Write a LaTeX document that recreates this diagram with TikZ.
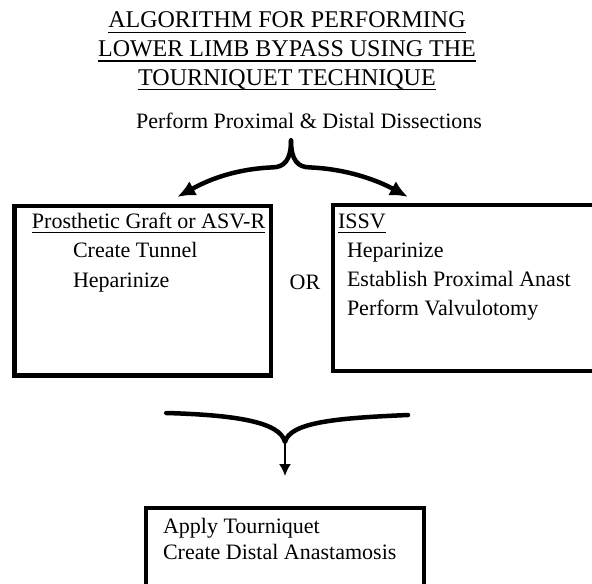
\documentclass[tikz,border=0pt]{standalone}
\usepackage{fontspec}
\setmainfont{Liberation Serif}
\usetikzlibrary{arrows.meta, positioning}

\newcommand{\ulined}[1]{\setbox0\hbox{#1}\rlap{\rule[-5bp]{\wd0}{1.2bp}}\box0}

\tikzset{
	stepbox/.style = {draw, black, line width = 4.5bp, inner sep = 0pt, outer sep = 0pt, font = \fontsize{22bp}{29.5bp}\selectfont},
	plain/.style = {black, inner sep = 0pt, font = \fontsize{22bp}{29.5bp}\selectfont},
	bracket/.style = {black, line width = 4.5bp, line cap = round, line join = round},
}

\begin{document}
\begin{tikzpicture}[x = 1bp, y = -1bp]

	\useasboundingbox (0, 0) rectangle (592, 584);

	%%% TITULO %%%

	\node[plain, anchor = north, align = center, font = \fontsize{24bp}{28.75bp}\selectfont] (title) at (287, 11.7)
		{\ulined{ALGORITHM FOR PERFORMING}\\ \ulined{LOWER LIMB BYPASS USING THE}\\ \ulined{TOURNIQUET TECHNIQUE}};

	\node[plain, anchor = base] (dissect) at (309, 129) {Perform Proximal \& Distal Dissections};

	%%% CAIXAS %%%

	\node[stepbox] (graft) at (142.75, 290.75) {\parbox[c][169.5bp][t]{256.5bp}{\raggedright
		\hspace*{17.5bp}\rule{0pt}{22bp}\ulined{Prosthetic Graft or ASV-R}\\
		\hspace*{58.5bp}Create Tunnel\\
		\hspace*{58.5bp}Heparinize}};

	\node[plain, anchor = base] (or) at (305, 289) {OR};

	\node[stepbox] (issv) at (465.5, 288) {\parbox[c][166bp][t]{265bp}{\raggedright\fontsize{22bp}{29.3bp}\selectfont
		\hspace*{5bp}\rule{0pt}{23bp}\ulined{ISSV}\\
		\hspace*{14bp}Heparinize\\
		\hspace*{14bp}Establish Proximal Anast\\
		\hspace*{14bp}Perform Valvulotomy}};

	\node[stepbox] (tourn) at (285, 554) {\parbox[c][92bp][t]{278bp}{\raggedright\fontsize{22bp}{26bp}\selectfont
		\hspace*{17bp}\rule{0pt}{25bp}Apply Tourniquet\\
		\hspace*{17bp}Create Distal Anastamosis}};

	%%% SETAS %%%

	\coordinate (fork)  at ([xshift = -18bp, yshift = -11bp]dissect.south);
	\coordinate (ltip)  at ([xshift = 34.5bp, yshift = 9bp]graft.north);
	\coordinate (rtip)  at ([xshift = -57.5bp, yshift = 8bp]issv.north);
	\coordinate (lend)  at ([xshift = 23.5bp, yshift = -37.5bp]graft.south);
	\coordinate (rend)  at ([xshift = -57.5bp, yshift = -44bp]issv.south);
	\coordinate (merge) at ([yshift = 66bp]tourn.north);
	\coordinate (aend)  at ([yshift = 32bp]tourn.north);

	\draw[bracket, -{Latex[length = 18bp, width = 16bp]}] (fork) .. controls +(0, 20) and +(12, 0) .. +(-19, 27) .. controls +(-45, 2) and +(22, -12) .. (ltip);
	\draw[bracket, -{Latex[length = 18bp, width = 16bp]}] (fork) .. controls +(0, 20) and +(-12, 0) .. +(19, 27) .. controls +(45, 2) and +(-22, -12) .. (rtip);

	\draw[bracket] (lend) .. controls +(70, 2) and +(-5, -20) .. (merge) .. controls +(5, -20) and +(-70, 3) .. (rend);
	\draw[black, line width = 2bp, -{Latex[length = 12bp, width = 12bp]}] (merge) -- (aend);

\end{tikzpicture}
\end{document}
